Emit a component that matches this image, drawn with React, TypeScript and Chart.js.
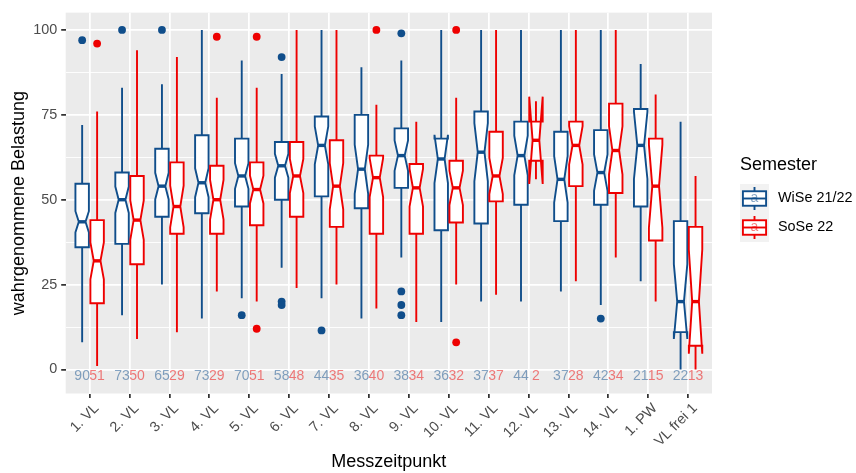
import { useEffect, useRef } from 'react';
import { Chart, registerables } from 'chart.js';

Chart.register(...registerables);

// Measurement points on the x axis
const categories = [
  '1. VL', '2. VL', '3. VL', '4. VL', '5. VL', '6. VL', '7. VL', '8. VL',
  '9. VL', '10. VL', '11. VL', '12. VL', '13. VL', '14. VL', '1. PW', 'VL frei 1',
];

const yTickValues = [0, 12.5, 25, 37.5, 50, 62.5, 75, 87.5, 100];

// WiSe 21/22: whisker ends, hinges, medians, group sizes, outliers
const wiseLow = [8, 16, 25, 15, 21, 30, 21, 15, 33, 14, 20, 20, 23, 19, 26, 0];
const wiseQ1 = [36, 37, 45, 46, 48, 50, 51, 47.5, 53.5, 41, 43, 48.5, 43.7, 48.5, 48, 11];
const wiseMedian = [43.5, 50, 54, 55, 57, 60, 66, 59, 63, 62, 64, 63, 56, 58, 66, 20];
const wiseQ3 = [54.7, 58, 65, 69, 68, 67, 74.5, 75, 71, 68, 76, 73, 70, 70.5, 76.7, 43.7];
const wiseHigh = [72, 83, 84, 100, 91, 87, 100, 89, 91, 100, 100, 100, 100, 100, 90, 73];
const wiseN = [90, 73, 65, 73, 70, 58, 44, 36, 38, 36, 37, 44, 37, 42, 21, 22];
const wiseOutliers = [[97], [100], [100], [], [16], [92, 20, 19], [11.5], [], [99, 23, 19, 16], [], [], [], [], [15], [], []];

// SoSe 22
const soseLow = [1, 9, 11, 23, 20, 24, 25, 18, 14, 25, 22, 56, 26, 33, 20, 0];
const soseQ1 = [19.5, 31, 40, 40, 42.5, 45, 42, 40, 40, 43.3, 49.5, 61.5, 54, 52, 38, 7];
const soseMedian = [32, 44, 48, 50, 53, 57, 54, 56.5, 53.5, 53.5, 57, 67.5, 66, 64.5, 54, 20];
const soseQ3 = [44, 57, 61, 60, 61, 67, 67.5, 63, 60.5, 61.5, 70, 73, 73, 78.3, 68, 42];
const soseHigh = [76, 94, 92, 80, 83, 100, 100, 78, 73, 80, 100, 79, 100, 100, 81, 57];
const soseN = [51, 50, 29, 29, 51, 48, 35, 40, 34, 32, 37, 2, 28, 34, 15, 13];
const soseOutliers = [[96], [], [], [98], [98, 12], [], [], [100], [], [100, 8], [], [], [], [], [], []];

const seriesNames = ['WiSe 21/22', 'SoSe 22'];
const countLabelY = -2;

const BLUE = '#104E8B';
const RED = '#EE0000';
const BLUE_LIGHT = 'rgba(16,78,139,0.5)';
const RED_LIGHT = 'rgba(238,0,0,0.5)';
const PANEL_BG = '#EBEBEB';
const FONT = '"Liberation Sans", Arial, Helvetica, sans-serif';

const DODGE = 0.1875;
const HALF_WIDTH = 0.16875;
const LINE = 1.9;

type Series = {
  low: number[]; q1: number[]; median: number[]; q3: number[]; high: number[]; n: number[];
  color: string; light: string; offset: number;
};

const series: Series[] = [
  { low: wiseLow, q1: wiseQ1, median: wiseMedian, q3: wiseQ3, high: wiseHigh, n: wiseN, color: BLUE, light: BLUE_LIGHT, offset: -DODGE },
  { low: soseLow, q1: soseQ1, median: soseMedian, q3: soseQ3, high: soseHigh, n: soseN, color: RED, light: RED_LIGHT, offset: DODGE },
];

const outlierPoints = (lists: number[][], offset: number) =>
  lists.flatMap((vals, i) => vals.map((v) => ({ x: i + 1 + offset, y: v })));

const notchedBoxes = {
  id: 'notchedBoxes',
  beforeDraw(chart: any) {
    const { ctx, chartArea: a } = chart;
    ctx.save();
    ctx.fillStyle = PANEL_BG;
    ctx.fillRect(a.left, a.top, a.right - a.left, a.bottom - a.top);
    ctx.restore();
  },
  beforeDatasetsDraw(chart: any) {
    const { ctx } = chart;
    const xs = chart.scales.x;
    const ys = chart.scales.y;
    ctx.save();
    for (const s of series) {
      for (let i = 0; i < categories.length; i++) {
        const c = i + 1 + s.offset;
        const xc = xs.getPixelForValue(c);
        const xmin = xs.getPixelForValue(c - HALF_WIDTH);
        const xmax = xs.getPixelForValue(c + HALF_WIDTH);
        const iqr = s.q3[i] - s.q1[i];
        const notch = (1.58 * iqr) / Math.sqrt(s.n[i]);
        const yLow = ys.getPixelForValue(s.low[i]);
        const yHigh = ys.getPixelForValue(s.high[i]);
        const yQ1 = ys.getPixelForValue(s.q1[i]);
        const yQ3 = ys.getPixelForValue(s.q3[i]);
        const yMed = ys.getPixelForValue(s.median[i]);
        const yNu = ys.getPixelForValue(s.median[i] + notch);
        const yNl = ys.getPixelForValue(s.median[i] - notch);
        const indent = 0.25 * (xmax - xmin);

        ctx.strokeStyle = s.color;
        ctx.lineWidth = LINE;
        ctx.lineCap = 'butt';
        ctx.lineJoin = 'miter';
        // whiskers
        ctx.beginPath();
        ctx.moveTo(xc, yQ3);
        ctx.lineTo(xc, yHigh);
        ctx.moveTo(xc, yQ1);
        ctx.lineTo(xc, yLow);
        ctx.stroke();
        // notched box
        ctx.beginPath();
        ctx.moveTo(xmin, yQ3);
        ctx.lineTo(xmin, yNu);
        ctx.lineTo(xmin + indent, yMed);
        ctx.lineTo(xmin, yNl);
        ctx.lineTo(xmin, yQ1);
        ctx.lineTo(xmax, yQ1);
        ctx.lineTo(xmax, yNl);
        ctx.lineTo(xmax - indent, yMed);
        ctx.lineTo(xmax, yNu);
        ctx.lineTo(xmax, yQ3);
        ctx.closePath();
        ctx.fillStyle = '#FFFFFF';
        ctx.fill();
        ctx.stroke();
        // median
        ctx.lineWidth = 3.4;
        ctx.beginPath();
        ctx.moveTo(xmin + indent, yMed);
        ctx.lineTo(xmax - indent, yMed);
        ctx.stroke();

        // group size label
        ctx.fillStyle = s.light;
        ctx.font = `14px ${FONT}`;
        ctx.textAlign = 'center';
        ctx.textBaseline = 'middle';
        ctx.fillText(String(s.n[i]), xc, ys.getPixelForValue(countLabelY));
      }
    }
    ctx.restore();
  },
  afterDraw(chart: any) {
    const { ctx } = chart;
    ctx.save();
    ctx.fillStyle = '#000000';
    ctx.font = `18px ${FONT}`;
    ctx.textAlign = 'left';
    ctx.textBaseline = 'middle';
    ctx.fillText('Semester', 740, 165);

    const keyX = 740;
    const keySize = 29;
    const keyTop = 184;
    series.forEach((s, k) => {
      const top = keyTop + k * keySize;
      ctx.fillStyle = '#F2F2F2';
      ctx.fillRect(keyX, top, keySize, keySize);
      const x0 = keyX + 0.1 * keySize;
      const x1 = keyX + 0.9 * keySize;
      const xm = keyX + 0.5 * keySize;
      const yb0 = top + 0.25 * keySize;
      const yb1 = top + 0.75 * keySize;
      ctx.strokeStyle = s.color;
      ctx.lineWidth = LINE;
      ctx.beginPath();
      ctx.moveTo(xm, top + 0.1 * keySize);
      ctx.lineTo(xm, yb0);
      ctx.moveTo(xm, yb1);
      ctx.lineTo(xm, top + 0.9 * keySize);
      ctx.stroke();
      ctx.fillStyle = '#FFFFFF';
      ctx.fillRect(x0, yb0, x1 - x0, yb1 - yb0);
      ctx.strokeRect(x0, yb0, x1 - x0, yb1 - yb0);
      ctx.beginPath();
      ctx.moveTo(x0, top + 0.5 * keySize);
      ctx.lineTo(x1, top + 0.5 * keySize);
      ctx.stroke();
      ctx.fillStyle = s.light;
      ctx.font = `14px ${FONT}`;
      ctx.textAlign = 'center';
      ctx.fillText('a', xm, top + 0.5 * keySize);
      ctx.fillStyle = '#000000';
      ctx.font = `14.4px ${FONT}`;
      ctx.textAlign = 'left';
      ctx.fillText(seriesNames[k], 778, top + 0.5 * keySize);
    });
    ctx.restore();
  },
};

export default function App() {
  const canvasRef = useRef<HTMLCanvasElement | null>(null);

  useEffect(() => {
    const canvas = canvasRef.current;
    if (!canvas) return;
    const tickFont = { family: FONT, size: 14.4 };
    const chart = new Chart(canvas, {
      type: 'scatter',
      data: {
        datasets: [
          {
            label: seriesNames[0],
            data: outlierPoints(wiseOutliers, -DODGE),
            backgroundColor: BLUE,
            borderColor: BLUE,
            pointRadius: 3.9,
            pointBorderWidth: 0,
          },
          {
            label: seriesNames[1],
            data: outlierPoints(soseOutliers, DODGE),
            backgroundColor: RED,
            borderColor: RED,
            pointRadius: 3.9,
            pointBorderWidth: 0,
          },
        ],
      },
      options: {
        animation: false,
        responsive: false,
        devicePixelRatio: 1,
        layout: { padding: { top: 5, right: 144, left: 0, bottom: 0 } },
        plugins: { legend: { display: false }, tooltip: { enabled: false } },
        scales: {
          x: {
            type: 'linear',
            min: 0.4,
            max: 16.6,
            afterBuildTicks: (s: any) => {
              s.ticks = categories.map((_, i) => ({ value: i + 1 }));
            },
            afterFit: (s: any) => {
              s.height = 79.5;
            },
            ticks: {
              autoSkip: false,
              minRotation: 45,
              maxRotation: 45,
              padding: 2,
              labelOffset: 7,
              color: '#4D4D4D',
              font: tickFont,
              callback: (v: any) => categories[Math.round(Number(v)) - 1] ?? '',
            },
            grid: {
              color: '#FFFFFF',
              lineWidth: 1.75,
              tickColor: '#333333',
              tickLength: 4.5,
              tickWidth: 1.75,
            },
            border: { display: false },
            title: {
              display: true,
              text: 'Messzeitpunkt',
              color: '#000000',
              font: { family: FONT, size: 18 },
              padding: { top: 0, bottom: 0 },
            },
          },
          y: {
            type: 'linear',
            min: -7.07,
            max: 105.1,
            afterBuildTicks: (s: any) => {
              s.ticks = yTickValues.map((v) => ({ value: v }));
            },
            afterFit: (s: any) => {
              s.width = 65.7;
            },
            ticks: {
              autoSkip: false,
              padding: 4,
              color: '#4D4D4D',
              font: tickFont,
              callback: (v: any) => (Number(v) % 25 === 0 ? String(v) : ''),
            },
            grid: {
              color: '#FFFFFF',
              lineWidth: (c: any) => (c.tick && c.tick.value % 25 === 0 ? 1.75 : 0.9),
              tickColor: (c: any) => (c.tick && c.tick.value % 25 === 0 ? '#333333' : 'rgba(0,0,0,0)'),
              tickLength: 4.5,
              tickWidth: 1.75,
            },
            border: { display: false },
            title: {
              display: true,
              text: 'wahrgenommene Belastung',
              color: '#000000',
              font: { family: FONT, size: 18 },
              padding: { top: 8, bottom: 0 },
            },
          },
        },
      },
      plugins: [notchedBoxes],
    } as any);
    return () => chart.destroy();
  }, []);

  return (
    <div style={{ position: 'fixed', left: 0, top: 0, width: 856, height: 473, background: '#FFFFFF' }}>
      <canvas ref={canvasRef} width={856} height={473} style={{ display: 'block' }} />
    </div>
  );
}
